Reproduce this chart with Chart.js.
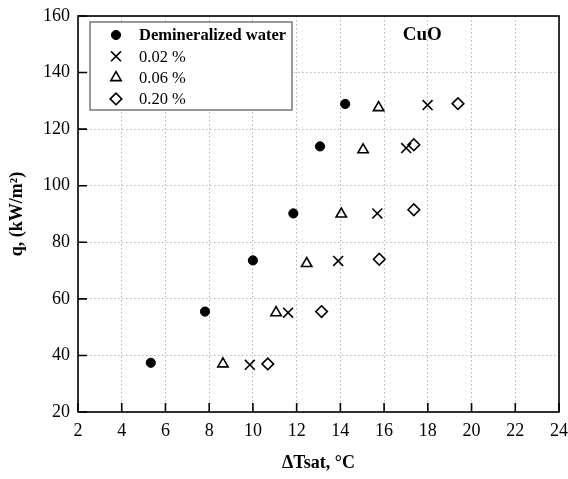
<!DOCTYPE html>
<html>
<head>
<meta charset="utf-8">
<script src="https://cdn.jsdelivr.net/npm/chart.js@4/dist/chart.umd.min.js"></script>
<style>
html, body { margin: 0; padding: 0; background: #fff; }
</style>
</head>
<body>
<canvas id="chart" width="568" height="479"></canvas>
<script>
var seriesNames = ['Demineralized water', '0.02 %', '0.06 %', '0.20 %'];

var waterX = [5.33, 7.81, 10.0, 11.85, 13.07, 14.22];
var waterY = [37.4, 55.5, 73.6, 90.2, 113.9, 128.9];

var cuo002X = [9.86, 11.61, 13.9, 15.69, 17.01, 17.99];
var cuo002Y = [36.7, 55.1, 73.4, 90.2, 113.3, 128.5];

var cuo006X = [8.63, 11.06, 12.46, 14.04, 15.04, 15.75];
var cuo006Y = [37.0, 55.1, 72.5, 90.0, 112.7, 127.6];

var cuo020X = [10.68, 13.14, 15.78, 17.36, 17.36, 19.38];
var cuo020Y = [37.0, 55.5, 74.0, 91.5, 114.5, 129.0];

var xTicks = [2, 4, 6, 8, 10, 12, 14, 16, 18, 20, 22, 24];
var yTicks = [20, 40, 60, 80, 100, 120, 140, 160];

var serif = "'Liberation Serif', 'Times New Roman', serif";

function toPoints(xs, ys) {
	var pts = [];
	for (var i = 0; i < xs.length; i++) {
		pts.push({x: xs[i], y: ys[i]});
	}
	return pts;
}

// frame, inward ticks, CuO label and the boxed legend
var decorations = {
	id: 'decorations',
	afterDraw: function(chart) {
		var ctx = chart.ctx;
		var a = chart.chartArea;
		var xs = chart.scales.x, ys = chart.scales.y;
		ctx.save();
		ctx.strokeStyle = '#000';
		ctx.lineWidth = 1.6;
		ctx.strokeRect(a.left, a.top, a.right - a.left, a.bottom - a.top);

		ctx.beginPath();
		xTicks.forEach(function(v) {
			var px = xs.getPixelForValue(v);
			ctx.moveTo(px, a.bottom);
			ctx.lineTo(px, a.bottom - 9);
		});
		yTicks.forEach(function(v) {
			var py = ys.getPixelForValue(v);
			ctx.moveTo(a.left, py);
			ctx.lineTo(a.left + 9, py);
		});
		ctx.stroke();

		ctx.fillStyle = '#000';
		ctx.font = 'bold 19px ' + serif;
		ctx.textAlign = 'center';
		ctx.textBaseline = 'middle';
		ctx.fillText('CuO', xs.getPixelForValue(17.75), ys.getPixelForValue(153.3));

		// legend box
		var bx = a.left + 12, by = a.top + 6, bw = 202, bh = 88;
		ctx.fillStyle = '#fff';
		ctx.fillRect(bx, by, bw, bh);
		ctx.strokeStyle = '#555';
		ctx.lineWidth = 1.2;
		ctx.strokeRect(bx, by, bw, bh);

		chart.data.datasets.forEach(function(ds, i) {
			var cy = by + 13 + i * 21.3;
			var cx = bx + 26;
			ctx.fillStyle = ds.pointBackgroundColor;
			ctx.strokeStyle = ds.pointBorderColor;
			ctx.lineWidth = ds.pointBorderWidth;
			Chart.helpers.drawPoint(ctx, {
				pointStyle: ds.pointStyle,
				radius: ds.pointRadius,
				borderWidth: ds.pointBorderWidth,
				rotation: 0
			}, cx, cy);
			ctx.fillStyle = '#000';
			ctx.font = (i === 0 ? 'bold ' : '') + '16.5px ' + serif;
			ctx.textAlign = 'left';
			ctx.textBaseline = 'middle';
			ctx.fillText(ds.label, bx + 49, cy + 1);
		});
		ctx.restore();
	}
};

var ctx = document.getElementById('chart').getContext('2d');

var chart = new Chart(ctx, {
	type: 'scatter',
	data: {
		datasets: [{
			label: seriesNames[0],
			data: toPoints(waterX, waterY),
			pointStyle: 'circle',
			pointRadius: 4.6,
			pointBackgroundColor: '#000',
			pointBorderColor: '#000',
			pointBorderWidth: 1
		}, {
			label: seriesNames[1],
			data: toPoints(cuo002X, cuo002Y),
			pointStyle: 'crossRot',
			pointRadius: 7,
			pointBackgroundColor: 'rgba(0,0,0,0)',
			pointBorderColor: '#000',
			pointBorderWidth: 1.6
		}, {
			label: seriesNames[2],
			data: toPoints(cuo006X, cuo006Y),
			pointStyle: 'triangle',
			pointRadius: 6,
			pointBackgroundColor: 'rgba(0,0,0,0)',
			pointBorderColor: '#000',
			pointBorderWidth: 1.6
		}, {
			label: seriesNames[3],
			data: toPoints(cuo020X, cuo020Y),
			pointStyle: 'rectRot',
			pointRadius: 5.8,
			pointBackgroundColor: 'rgba(0,0,0,0)',
			pointBorderColor: '#000',
			pointBorderWidth: 1.6
		}]
	},
	options: {
		responsive: false,
		animation: false,
		devicePixelRatio: 1,
		layout: {
			padding: {top: 16, right: 9, bottom: 5, left: 0}
		},
		plugins: {
			legend: {display: false},
			tooltip: {enabled: false}
		},
		scales: {
			x: {
				type: 'linear',
				min: 2,
				max: 24,
				afterFit: function(s) {
					s.height = 62;
					s.paddingLeft = 0;
					s.paddingRight = 0;
				},
				afterBuildTicks: function(s) {
					s.ticks = xTicks.map(function(v) { return {value: v}; });
				},
				ticks: {
					color: '#000',
					padding: 8,
					maxRotation: 0,
					font: {family: serif, size: 18}
				},
				grid: {
					color: '#b5b5b5',
					lineWidth: 1,
					drawTicks: false
				},
				border: {display: false, dash: [1.5, 2.5]},
				title: {
					display: true,
					text: 'ΔTsat, °C',
					color: '#000',
					font: {family: serif, size: 18, weight: 'bold'},
					padding: {top: 0, bottom: 0}
				}
			},
			y: {
				type: 'linear',
				min: 20,
				max: 160,
				afterFit: function(s) {
					s.width = 78;
					s.paddingTop = 0;
					s.paddingBottom = 0;
				},
				afterBuildTicks: function(s) {
					s.ticks = yTicks.map(function(v) { return {value: v}; });
				},
				ticks: {
					color: '#000',
					padding: 8,
					font: {family: serif, size: 18}
				},
				grid: {
					color: '#b5b5b5',
					lineWidth: 1,
					drawTicks: false
				},
				border: {display: false, dash: [1.5, 2.5]},
				title: {
					display: true,
					text: 'q, (kW/m²)',
					color: '#000',
					font: {family: serif, size: 18, weight: 'bold'},
					padding: {top: 7, bottom: 0}
				}
			}
		}
	},
	plugins: [decorations]
});
</script>
</body>
</html>
